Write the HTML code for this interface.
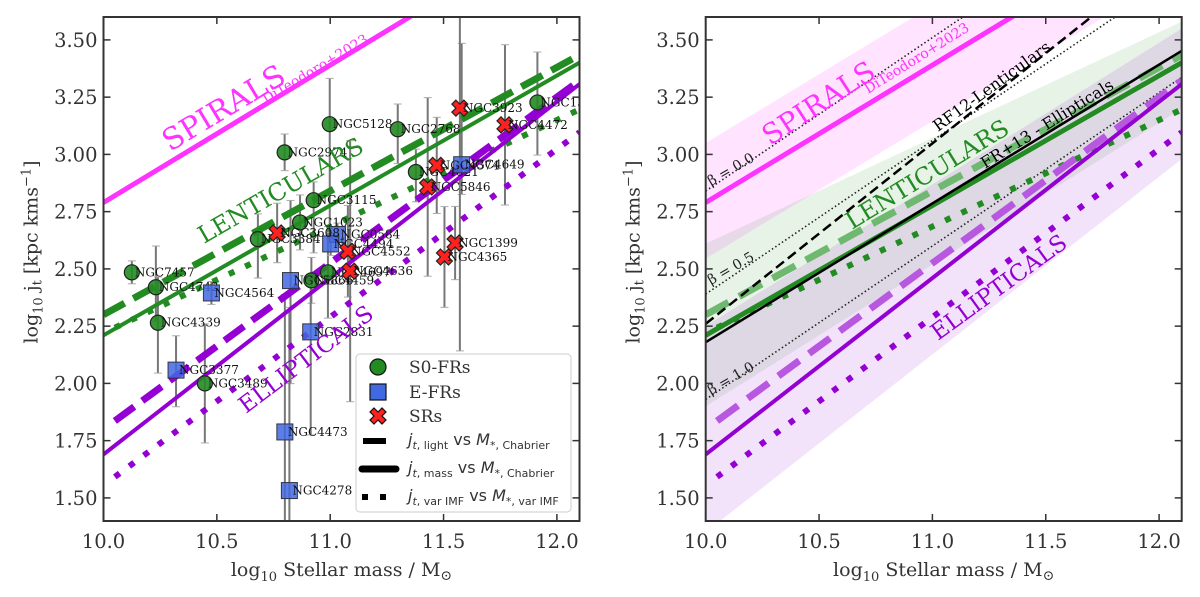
<!DOCTYPE html>
<html><head><meta charset="utf-8">
<style>
body{margin:0;background:#fff;}
svg{display:block;font-family:"DejaVu Serif","Liberation Serif",serif;}
</style></head>
<body>
<svg id="fig" width="1200" height="597" viewBox="0 0 1200 597" xmlns="http://www.w3.org/2000/svg">
<defs>
<clipPath id="clipL"><rect x="103.5" y="17" width="476" height="504"/></clipPath>
<clipPath id="clipR"><rect x="705.7" y="17" width="476" height="504"/></clipPath>
</defs>
<g id="left"></g>
<g id="right"></g>
</svg>
<script>
// ---------- DATA ----------
const s0Names=["NGC1316","NGC5128","NGC2768","NGC2974","NGC3115","NGC1023","NGC3384","NGC7457","NGC4742","NGC4459","NGC4697","NGC4621","NGC4339","NGC3489"];
const s0Mass=[11.914,10.998,11.298,10.799,10.927,10.867,10.681,10.125,10.231,10.917,10.99,11.378,10.24,10.447];
const s0J=[3.227,3.132,3.110,3.009,2.80,2.703,2.63,2.485,2.42,2.45,2.485,2.923,2.265,2.00];
const s0ErrLo=[0.23,0.5,0.15,0.08,0.23,0.12,0.17,0.05,0.15,0.1,0.2,0.13,0.22,0.26];
const s0ErrHi=[0.22,0.2,0.11,0.08,0.08,0.12,0.11,0.05,0.18,0.1,0.2,0.1,0.2,0.26];

const efrNames=["NGC4649","NGC0584","NGC4494","NGC5866","NGC4564","NGC3377","NGC4473","NGC4278","NGC2831"];
const efrMass=[11.58,11.032,11.002,10.825,10.476,10.32,10.80,10.82,10.914];
const efrJ=[2.955,2.65,2.609,2.449,2.395,2.058,1.788,1.532,2.225];
const efrErrLo=[0.13,0.05,0.05,0.45,0.05,0.16,0.5,0.3,0.45];
const efrErrHi=[0.53,0.05,0.05,0.35,0.05,0.15,0.6,0.8,0.2];

const srNames=["NGC3923","NGC4472","NGC4374","NGC5846","NGC3608","NGC4552","NGC4636","NGC1399","NGC4365"];
const srMass=[11.572,11.771,11.47,11.43,10.766,11.078,11.088,11.551,11.504];
const srJ=[3.202,3.129,2.952,2.858,2.657,2.577,2.49,2.613,2.552];
const srErrLo=[1.06,0.35,0.21,0.39,0.13,0.2,0.57,0.16,0.22];
const srErrHi=[0.5,0.35,0.21,0.39,0.13,0.2,0.57,0.16,0.22];

// relation intercepts (at logM=10) and slopes
const spiralFit=[2.79,0.60];
const lentLight=[2.30,0.54];
const lentMass=[2.21,0.567];
const lentVar=[2.22,0.465];
const ellLight=[1.80,0.725];
const ellMass=[1.69,0.77];
const ellVar=[1.555,0.734];
const rf12Lent=[2.26,0.788];
const fr13Ell=[2.18,0.606];
const betaIntercepts=[2.84,2.39,1.93];
const betaSlope=0.67;
const betaLabels=["β = 0.0","β = 0.5","β = 1.0"];
// scatter bands: [lower@10, lower@12.1, upper@10, upper@12.1]
const spiralBand=[2.545,3.805,3.05,4.31];
const lentBand=[1.90,3.20,2.61,3.58];
const ellBand=[1.35,2.98,2.25,3.55];

const xTicks=[10.0,10.5,11.0,11.5,12.0];
const yTicks=[1.50,1.75,2.00,2.25,2.50,2.75,3.00,3.25,3.50];

// ---------- SCALES ----------
const X0={L:103.5,R:705.7};
const PXU=226.7;
function X(p,x){return X0[p]+(x-10)*PXU;}
function Y(y){return 17+(3.6-y)*229;}
const NS="http://www.w3.org/2000/svg";
function el(tag,attrs,parent){const e=document.createElementNS(NS,tag);for(const k in attrs)e.setAttribute(k,attrs[k]);parent.appendChild(e);return e;}

function drawAxes(p,g){
  const x0=X0[p];
  xTicks.forEach(t=>{
    const x=X(p,t);
    const a=el('line',{x1:x,x2:x,y1:521,y2:514,stroke:'#333','stroke-width':1.5},g);
    
    el('line',{x1:x,x2:x,y1:17,y2:24,stroke:'#333','stroke-width':1.5},g);
    const tx=el('text',{x:x,y:548,'text-anchor':'middle','font-size':19.5,fill:'#333'},g);
    tx.textContent=t.toFixed(1);
    
    
  });
  yTicks.forEach(t=>{
    const y=Y(t);
    el('line',{x1:x0,x2:x0+7,y1:y,y2:y,stroke:'#333','stroke-width':1.5},g);
    el('line',{x1:x0+476,x2:x0+469,y1:y,y2:y,stroke:'#333','stroke-width':1.5},g);
    const tx=el('text',{x:x0-6,y:y+7,'text-anchor':'end','font-size':19.5,fill:'#333'},g);
    tx.textContent=t.toFixed(2);
    
    
  });
  const fr=el('rect',{x:x0,y:17,width:476,height:504,fill:'none',stroke:'#333','stroke-width':2},g);
  
  const xl=el('text',{x:x0+238,y:576,'text-anchor':'middle','font-size':19,fill:'#333'},g);
  xl.innerHTML='log<tspan font-size="13" dy="5">10</tspan><tspan dy="-5"> Stellar mass / M</tspan><tspan font-size="14" dy="4">⊙</tspan>';
  
  const cx=x0-66, cy=252;
  const yl=el('text',{x:cx,y:cy,'text-anchor':'middle','font-size':19,fill:'#333',transform:`rotate(-90 ${cx} ${cy})`},g);
  yl.innerHTML='log<tspan font-size="13" dy="5">10</tspan><tspan dy="-5"> j</tspan><tspan font-size="13" dy="4">t</tspan><tspan dy="-4"> [kpc kms</tspan><tspan font-size="13" dy="-7">−1</tspan><tspan dy="7">]</tspan>';
  
}

function fitLine(p,g,fit,style,name,xs){
  const a=xs||10;
  const l=el('line',Object.assign({x1:X(p,a),y1:Y(fit[0]+fit[1]*(a-10)),x2:X(p,12.1),y2:Y(fit[0]+fit[1]*2.1)},style),g);
  
  
  return l;
}
function band(p,g,b,fill,name){
  const pts=[[10,b[0]],[12.1,b[1]],[12.1,b[3]],[10,b[2]]].map(q=>X(p,q[0])+','+Y(q[1])).join(' ');
  const poly=el('polygon',{points:pts,fill:fill},g);
  
  
}
function rotText(g,x,y,ang,txt,size,color,name){
  const t=el('text',{x:x,y:y,'font-size':size,fill:color,transform:`rotate(${ang} ${x} ${y})`},g);
  t.textContent=txt;
  
  
  return t;
}

const GREEN='#228B22', PURPLE='#9400D3', MAG='#ff33ff';

// ---------- LEFT PANEL ----------
const L=document.getElementById('left');
const Lc=el('g',{'clip-path':'url(#clipL)'},L);
function errbars(names,mass,jj,lo,hi){
  mass.forEach((m,i)=>{
    const x=X('L',m);
    const b=el('line',{x1:x,x2:x,y1:Y(jj[i]+hi[i]),y2:Y(jj[i]-lo[i]),stroke:'#777','stroke-width':2},Lc);
    
    
    el('line',{x1:x-4,x2:x+4,y1:Y(jj[i]+hi[i]),y2:Y(jj[i]+hi[i]),stroke:'#aaa','stroke-width':1},Lc);
    el('line',{x1:x-4,x2:x+4,y1:Y(jj[i]-lo[i]),y2:Y(jj[i]-lo[i]),stroke:'#aaa','stroke-width':1},Lc);
  });
}
errbars(s0Names,s0Mass,s0J,s0ErrLo,s0ErrHi);
errbars(efrNames,efrMass,efrJ,efrErrLo,efrErrHi);
errbars(srNames,srMass,srJ,srErrLo,srErrHi);

fitLine('L',Lc,spiralFit,{stroke:MAG,'stroke-width':5},'spirals-fit-line');
fitLine('L',Lc,lentLight,{stroke:GREEN,'stroke-width':7,'stroke-dasharray':'24 10'},'lenticulars-light-line');
fitLine('L',Lc,lentMass,{stroke:GREEN,'stroke-width':4},'lenticulars-mass-line');
fitLine('L',Lc,lentVar,{stroke:GREEN,'stroke-width':6,'stroke-dasharray':'6 12'},'lenticulars-varimf-line',10.05);
fitLine('L',Lc,ellLight,{stroke:PURPLE,'stroke-width':7,'stroke-dasharray':'24 10'},'ellipticals-light-line',10.05);
fitLine('L',Lc,ellMass,{stroke:PURPLE,'stroke-width':4},'ellipticals-mass-line');
fitLine('L',Lc,ellVar,{stroke:PURPLE,'stroke-width':6,'stroke-dasharray':'6 12'},'ellipticals-varimf-line',10.05);

function label(x,y,txt){
  const t=el('text',{x:x+3,y:y+4,'font-size':12,fill:'#111'},Lc);
  t.textContent=txt;
  
  
}
s0Mass.forEach((m,i)=>{
  const c=el('circle',{cx:X('L',m),cy:Y(s0J[i]),r:7.5,fill:GREEN,stroke:'#222','stroke-width':1.2,'fill-opacity':0.9},Lc);
  
  
  label(X('L',m),Y(s0J[i]),s0Names[i]);
});
efrMass.forEach((m,i)=>{
  const x=X('L',m),y=Y(efrJ[i]);
  const r=el('rect',{x:x-8,y:y-8,width:16,height:16,fill:'#4169E1','fill-opacity':0.85,stroke:'#334','stroke-width':1},Lc);
  
  
  label(x,y,efrNames[i]);
});
const XPATH='M-4,-8 L0,-4 L4,-8 L8,-4 L4,0 L8,4 L4,8 L0,4 L-4,8 L-8,4 L-4,0 L-8,-4 Z';
srMass.forEach((m,i)=>{
  const x=X('L',m),y=Y(srJ[i]);
  const p=el('path',{d:XPATH,transform:`translate(${x} ${y})`,fill:'#ff2020',stroke:'#222','stroke-width':1.2},Lc);
  
  
  label(x,y,srNames[i]);
});

rotText(L,170,152,-31,'SPIRALS',30,MAG,'spirals-annotation');
rotText(L,266,104,-31,'DiTeodoro+2023',14,MAG,'diteodoro-annotation');
rotText(L,204,244,-30,'LENTICULARS',24,GREEN,'lenticulars-annotation');
rotText(L,246,414,-37,'ELLIPTICALS',23,PURPLE,'ellipticals-annotation');

// legend
const lg=el('g',{},L);


el('rect',{x:356,y:354,width:215,height:158,rx:4,fill:'#fff','fill-opacity':0.9,stroke:'#ccc','stroke-width':1},lg);
const legRows=[367,392,416,441,469,497];
const lc=el('circle',{cx:378,cy:legRows[0],r:8,fill:GREEN,stroke:'#111','stroke-width':1.2},lg);

const ls=el('rect',{x:370,y:legRows[1]-8,width:16,height:16,fill:'#4169E1',stroke:'#111','stroke-width':1.2},lg);

const lx=el('path',{d:XPATH,transform:`translate(378 ${legRows[2]})`,fill:'#ff2020',stroke:'#111','stroke-width':1.2},lg);

el('line',{x1:363,x2:386,y1:legRows[3],y2:legRows[3],stroke:'#000','stroke-width':6},lg);
el('line',{x1:362,x2:396,y1:legRows[4],y2:legRows[4],stroke:'#000','stroke-width':7,'stroke-linecap':'round'},lg);
el('rect',{x:362,y:legRows[5]-3,width:6,height:6,fill:'#000'},lg);
el('rect',{x:380,y:legRows[5]-3,width:6,height:6,fill:'#000'},lg);
const legTexts=['S0-FRs','E-FRs','SRs'];
legTexts.forEach((t,i)=>{
  const tx=el('text',{x:409,y:legRows[i]+6,'font-size':17,fill:'#333'},lg);
  tx.textContent=t;
  
  
});
const mathRows=[['light','Chabrier'],['mass','Chabrier'],['var IMF','var IMF']];
mathRows.forEach((r,i)=>{
  const tx=el('text',{x:408,y:legRows[3+i]+4,'font-size':16,fill:'#333','font-family':'DejaVu Sans, sans-serif'},lg);
  tx.innerHTML=`<tspan font-style="italic">j</tspan><tspan font-size="11" dy="4"><tspan font-style="italic">t</tspan>, ${r[0]}</tspan><tspan dy="-4"> vs </tspan><tspan font-style="italic">M</tspan><tspan font-size="11" dy="4">*, ${r[1]}</tspan>`;
  
  
});
drawAxes('L',L);

// ---------- RIGHT PANEL ----------
const R=document.getElementById('right');
const Rc=el('g',{'clip-path':'url(#clipR)'},R);
band('R',Rc,spiralBand,'rgba(255,0,255,0.11)','spirals-band');
band('R',Rc,lentBand,'rgba(34,139,34,0.10)','lenticulars-band');
band('R',Rc,ellBand,'rgba(148,0,211,0.11)','ellipticals-band');
betaIntercepts.forEach((b,i)=>{
  fitLine('R',Rc,[b,betaSlope],{stroke:'#222','stroke-width':1.6,'stroke-dasharray':'1.5 2.5'},'beta-line');
});
fitLine('R',Rc,spiralFit,{stroke:MAG,'stroke-width':5},'spirals-fit-line');
fitLine('R',Rc,lentLight,{stroke:'#6fb86f','stroke-width':7,'stroke-dasharray':'26 12'},'lenticulars-light-line');
fitLine('R',Rc,lentVar,{stroke:GREEN,'stroke-width':6,'stroke-dasharray':'6 12'},'lenticulars-varimf-line',10.05);
fitLine('R',Rc,lentMass,{stroke:GREEN,'stroke-width':5},'lenticulars-mass-line');
fitLine('R',Rc,ellLight,{stroke:'#b857e0','stroke-width':7,'stroke-dasharray':'26 12'},'ellipticals-light-line',10.05);
fitLine('R',Rc,ellMass,{stroke:PURPLE,'stroke-width':4},'ellipticals-mass-line');
fitLine('R',Rc,ellVar,{stroke:PURPLE,'stroke-width':6,'stroke-dasharray':'6 12'},'ellipticals-varimf-line',10.05);
fitLine('R',Rc,rf12Lent,{stroke:'#000','stroke-width':2.5,'stroke-dasharray':'10 5'},'rf12-lenticulars-line');
fitLine('R',Rc,fr13Ell,{stroke:'#000','stroke-width':2.5},'fr13-ellipticals-line');

rotText(R,770,146,-33,'SPIRALS',28,MAG,'spirals-annotation');
rotText(R,868,94,-32,'DiTeodoro+2023',14,MAG,'diteodoro-annotation');
rotText(R,938,132,-36,'RF12-Lenticulars',16,'#000','rf12-annotation');
rotText(R,985,169,-32,'FR+13 - Ellipticals',16,'#000','fr13-annotation');
rotText(R,852,230,-31.5,'LENTICULARS',24,GREEN,'lenticulars-annotation');
rotText(R,938,341,-36,'ELLIPTICALS',23,PURPLE,'ellipticals-annotation');
const betaY=[186,285,395];
betaLabels.forEach((b,i)=>{
  rotText(R,711,betaY[i],-30,b,14,'#222','beta-label');
});
drawAxes('R',R);
</script>
</body></html>
